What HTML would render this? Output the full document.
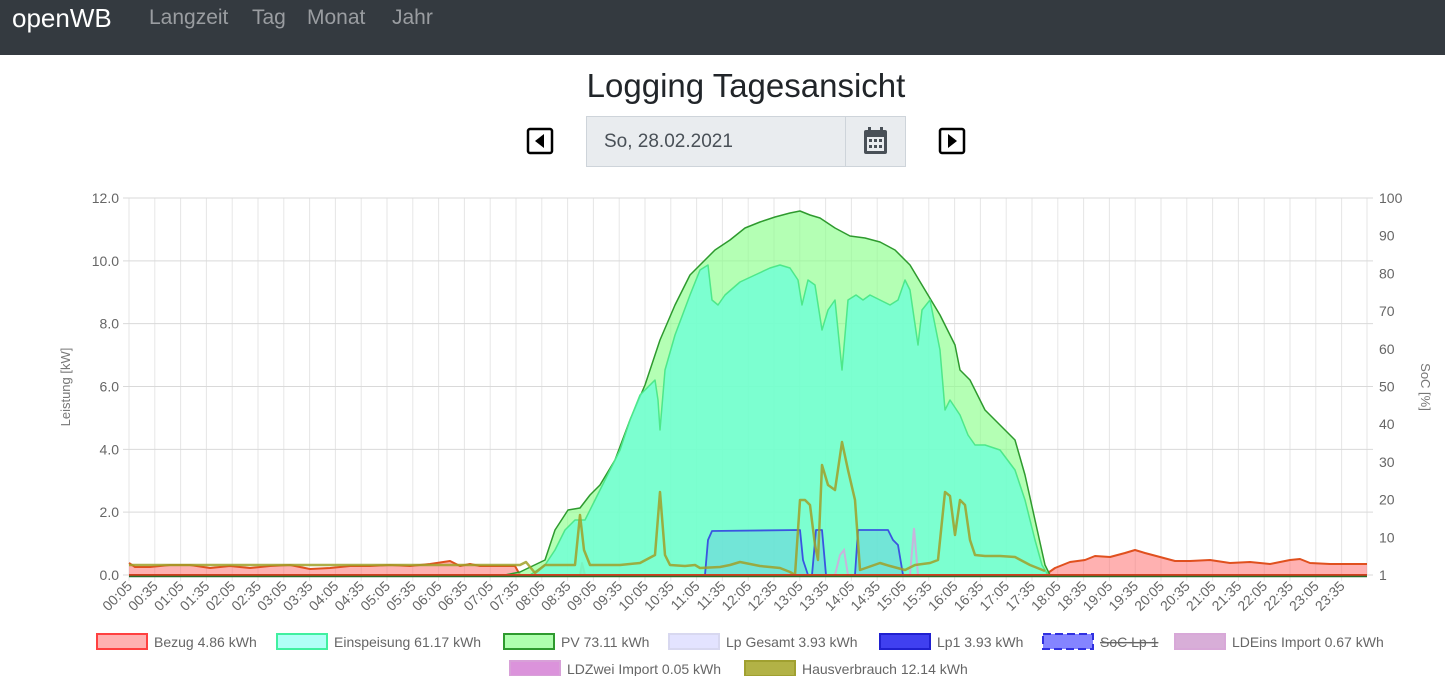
<!DOCTYPE html>
<html><head><meta charset="utf-8"><style>
body{margin:0;width:1445px;height:676px;overflow:hidden;background:#fff;font-family:"Liberation Sans",sans-serif}
.nav{position:absolute;left:0;top:0;width:1445px;height:55px;background:#343a40}
.nav span{position:absolute;top:6px;font-size:21px;color:#9a9da1}
.title{position:absolute;left:0;width:1492px;top:67px;text-align:center;font-size:33px;color:#212529}
</style></head><body>
<div class="nav"><span style="left:12px;color:#fff;font-size:26px;top:3px">openWB</span><span style="left:149px">Langzeit</span><span style="left:252px">Tag</span><span style="left:307px">Monat</span><span style="left:392px">Jahr</span></div>
<div class="title">Logging Tagesansicht</div>
<div style="position:absolute;left:586px;top:116px;width:260px;height:51px;background:#e9ecef;border:1px solid #ced4da;box-sizing:border-box;font-size:19px;color:#495057;line-height:49px;padding-left:17px">So, 28.02.2021</div>
<div style="position:absolute;left:845px;top:116px;width:61px;height:51px;background:#e9ecef;border:1px solid #ced4da;box-sizing:border-box"></div>
<svg width="1445" height="676" style="position:absolute;left:0;top:0" id="s">
<g fill="#343a40"><rect x="528" y="129" width="24" height="24" rx="2" fill="none" stroke="#000" stroke-width="2.5"/><path d="M544 134 L535 141 L544 148Z" fill="#000"/>
<rect x="940" y="129" width="24" height="24" rx="2" fill="none" stroke="#000" stroke-width="2.5"/><path d="M948 134 L957 141 L948 148Z" fill="#000"/>
<rect x="864" y="130" width="23" height="24" rx="2" fill="#495057"/><rect x="867" y="137" width="17" height="14" fill="#e9ecef"/>
<g fill="#495057"><rect x="869" y="139" width="3" height="3"/><rect x="874" y="139" width="3" height="3"/><rect x="879" y="139" width="3" height="3"/><rect x="869" y="145" width="3" height="3"/><rect x="874" y="145" width="3" height="3"/><rect x="879" y="145" width="3" height="3"/></g>
<rect x="868" y="127" width="3" height="6" fill="#495057"/><rect x="880" y="127" width="3" height="6" fill="#495057"/></g>
<g id="grid"></g>
<g id="data"></g>
<g id="lbl" font-size="14" fill="#666"></g>
<text x="70" y="387" font-size="13" fill="#777" transform="rotate(-90 70 387)" text-anchor="middle">Leistung [kW]</text>
<text x="1421" y="387" font-size="13" fill="#777" transform="rotate(90 1421 387)" text-anchor="middle">SoC [%]</text>
<g id="leg" font-size="14" fill="#666"></g>
</svg>
<script>
var ns="http://www.w3.org/2000/svg";
function el(p,t,a,txt){var e=document.createElementNS(ns,t);for(var k in a)e.setAttribute(k,a[k]);if(txt)e.textContent=txt;document.getElementById(p).appendChild(e);return e;}
var L=129,R=1367,T=198,B=575;
for(var i=0;i<48;i++){var x=L+i*25.8;el('grid','line',{x1:x,x2:x,y1:T,y2:B+6,stroke:'#e6e6e6'});
var m=5+i*30,h=Math.floor(m/60),mm=m%60,s=(h<10?'0':'')+h+':'+(mm<10?'0':'')+mm;
el('lbl','text',{x:x+4,y:B+12,'text-anchor':'end',transform:'rotate(-45 '+(x+4)+' '+(B+12)+')'},s);}
el('grid','line',{x1:R,x2:R,y1:T,y2:B,stroke:'#e6e6e6'});
for(var j=0;j<=6;j++){var y=B-j*(B-T)/6;el('grid','line',{x1:L-6,x2:R+6,y1:y,y2:y,stroke:'#d9d9d9'});el('lbl','text',{x:L-10,y:y+5,'text-anchor':'end'},(j*2).toFixed(1));}
for(var j=0;j<=10;j++){var y=B-j*(B-T)/10;el('lbl','text',{x:R+12,y:y+5},j==0?'1':String(j*10));}
function P(pts){return pts.map(function(p,i){return (i?'L':'M')+p[0]+' '+p[1]}).join(' ');}
function area(pts,fill,stroke,sw){el('data','path',{d:P([[pts[0][0],B]].concat(pts).concat([[pts[pts.length-1][0],B]]))+'Z',fill:fill,stroke:'none'});el('data','path',{d:P(pts),fill:'none',stroke:stroke,'stroke-width':sw||1.5,'stroke-linejoin':'round'});}
var bz=[[129,563],[135,567],[150,567],[170,565],[190,565],[210,568],[230,566],[250,568],[270,566],[290,565],[310,569],[330,568],[350,566],[370,566],[390,565],[410,566],[430,564],[450,561],[460,566],[470,564],[480,566],[490,566],[500,566],[515,566],[520,575],[580,575],[582,563],[585,575],[1045,575],[1055,568],[1070,562],[1085,560],[1095,556],[1110,557],[1125,553],[1135,550],[1145,553],[1160,557],[1175,561],[1190,561],[1210,560],[1230,563],[1250,562],[1270,564],[1290,560],[1300,559],[1310,563],[1330,564],[1367,564]];
area(bz,'rgba(255,99,99,0.5)','#e0501e',2);
var pv=[[505,575],[520,572],[545,560],[555,530],[568,510],[580,508],[590,495],[600,485],[615,460],[630,420],[645,385],[660,340],[675,305],[690,275],[700,265],[715,250],[730,240],[745,228],[760,222],[775,217],[790,213],[800,211],[810,215],[820,218],[835,228],[850,236],[865,238],[880,242],[895,250],[910,265],[925,290],[940,315],[955,345],[960,370],[970,380],[985,410],[1000,425],[1015,440],[1025,475],[1035,520],[1045,565],[1050,575]];
area(pv,'rgba(140,255,140,0.65)','#2e9a2e',1.5);
var es=[[530,575],[545,565],[555,550],[565,530],[575,520],[585,520],[595,500],[605,480],[620,450],[630,420],[640,395],[650,385],[655,380],[658,400],[660,430],[665,370],[675,335],[690,295],[700,270],[708,265],[712,300],[718,305],[725,295],[740,282],[755,275],[770,268],[780,265],[790,268],[798,280],[802,305],[808,280],[815,285],[822,330],[828,310],[835,300],[842,370],[848,300],[856,295],[863,300],[870,295],[880,300],[890,305],[898,300],[905,280],[910,290],[918,345],[922,310],[930,300],[940,350],[945,410],[950,400],[960,415],[968,435],[975,445],[985,445],[1000,450],[1015,470],[1025,500],[1035,540],[1042,565],[1048,575]];
area(es,'rgba(110,255,215,0.8)','#4de88a',1.5);
var lp=[[705,575],[708,540],[712,531],[800,530],[803,560],[808,575],[812,575],[816,530],[822,530],[826,575],[855,575],[858,530],[888,530],[893,540],[898,545],[903,575]];
area(lp,'rgba(60,80,255,0.15)','#3a55e0',1.8);
el('data','path',{d:P([[835,575],[840,555],[844,550],[848,575],[910,575],[914,528],[918,575]]),fill:'none',stroke:'#c8b4dc','stroke-width':2});
var hv=[[129,565],[520,565],[526,562],[535,573],[545,565],[560,565],[575,565],[580,515],[584,550],[590,565],[620,565],[640,563],[655,555],[660,492],[665,555],[670,565],[685,566],[695,565],[700,568],[720,567],[730,565],[740,562],[760,566],[770,567],[780,568],[790,572],[795,575],[800,500],[805,500],[810,505],[815,545],[818,560],[822,465],[828,485],[835,490],[842,442],[848,470],[855,500],[860,570],[880,563],[890,566],[905,570],[915,565],[930,563],[938,560],[945,492],[950,496],[955,535],[960,500],[965,505],[970,540],[975,555],[985,556],[1000,556],[1015,557],[1030,565],[1045,571]];
el('data','path',{d:P(hv),fill:'none',stroke:'rgba(160,160,40,0.85)','stroke-width':2.5,'stroke-linejoin':'round'});
el('data','line',{x1:L,x2:R,y1:B,y2:B,stroke:'#d04020','stroke-width':2});
el('data','line',{x1:L,x2:R,y1:B+1.5,y2:B+1.5,stroke:'#2a6a2a','stroke-width':1.5});
var lg=[[97,634,'Bezug 4.86 kWh','rgba(255,99,99,0.5)','#ff4040'],[277,634,'Einspeisung 61.17 kWh','rgba(100,255,240,0.5)','#40f0a0'],[504,634,'PV 73.11 kWh','rgba(140,255,140,0.7)','#2e9a2e'],[669,634,'Lp Gesamt 3.93 kWh','rgba(200,200,255,0.5)','#d8d8f0'],[880,634,'Lp1 3.93 kWh','#4040f0','#2020d0'],[1043,634,'SoC Lp 1','rgba(80,80,255,0.7)','#3030e0'],[1175,634,'LDEins Import 0.67 kWh','rgba(200,140,200,0.7)','#d8a8d8'],[510,661,'LDZwei Import 0.05 kWh','rgba(210,120,210,0.8)','#d8a0d8'],[745,661,'Hausverbrauch 12.14 kWh','rgba(170,170,50,0.9)','#a0a030']];
lg.forEach(function(l){el('leg','rect',{x:l[0],y:l[1],width:50,height:15,fill:l[3],stroke:l[4],'stroke-width':2,'stroke-dasharray':l[2]=='SoC Lp 1'?'8 4':'none'});
var t=el('leg','text',{x:l[0]+57,y:l[1]+13},l[2]);if(l[2]=='SoC Lp 1')t.setAttribute('text-decoration','line-through');});
</script>
</body></html>
